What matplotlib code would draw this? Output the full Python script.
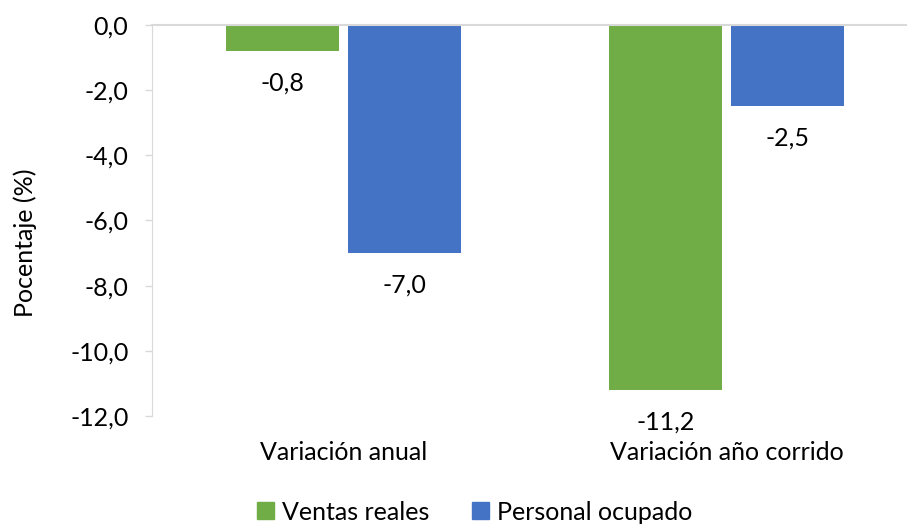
import matplotlib
matplotlib.use("Agg")
from matplotlib import pyplot as plt
from matplotlib import transforms
from matplotlib.patches import Patch
import numpy as np

categories = ["Variación anual", "Variación año corrido"]
ventas_reales = [-0.8, -11.2]
personal_ocupado = [-7.0, -2.5]
series_names = ["Ventas reales", "Personal ocupado"]
yticks = [0, -2, -4, -6, -8, -10, -12]

GREEN = "#70AD47"
BLUE = "#4472C4"
GRID = "#D9D9D9"
FS = 18

plt.rcParams["font.family"] = ["Lato", "DejaVu Sans"]

fig = plt.figure(figsize=(9.07, 5.25), dpi=100)
W, H = 907, 525
# plot area runs a little past the right edge of the image, like the original
ax = fig.add_axes([152 / W, 1 - 416 / H, (918 - 152) / W, (416 - 25) / H])

x = np.arange(len(categories))
width = 0.295
offset = 0.16

for vals, color, dx in [(ventas_reales, GREEN, -offset), (personal_ocupado, BLUE, offset)]:
    ax.bar(x + dx, vals, width=width, color=color, zorder=2)
    for xi, v in zip(x + dx, vals):
        ax.annotate(f"{v:.1f}".replace(".", ","), (xi, v), xytext=(0, -23),
                    textcoords="offset points", ha="center", va="center", fontsize=FS)

ax.set_xlim(-0.5, 1.5)
ax.set_ylim(-12, 0)
ax.set_yticks(yticks)
ax.set_yticklabels([f"{t:.1f}".replace(".", ",") for t in yticks], fontsize=FS)
ax.tick_params(axis="y", length=5, width=1, color=GRID, pad=12)
ax.set_xticks([])

for s in ["right", "bottom"]:
    ax.spines[s].set_visible(False)
ax.spines["left"].set_color(GRID)
ax.spines["top"].set_color(GRID)
ax.spines["top"].set_linewidth(1.5)

cat_trans = transforms.blended_transform_factory(ax.transData, fig.transFigure)
for xi, cat in zip(x, categories):
    ax.text(xi, 1 - 453 / H, cat, transform=cat_trans, ha="center", va="center", fontsize=FS)

fig.text(25 / W, 1 - 243 / H, "Pocentaje (%)", rotation=90, ha="center", va="center", fontsize=FS)

handles = [Patch(color=GREEN), Patch(color=BLUE)]
fig.legend(handles, series_names, loc="center", bbox_to_anchor=(475 / W, 1 - 512 / H),
           ncol=2, frameon=False, fontsize=FS, handlelength=0.65, handleheight=0.65,
           handletextpad=0.35, columnspacing=1.7)

fig.savefig("out.png", dpi=100)
